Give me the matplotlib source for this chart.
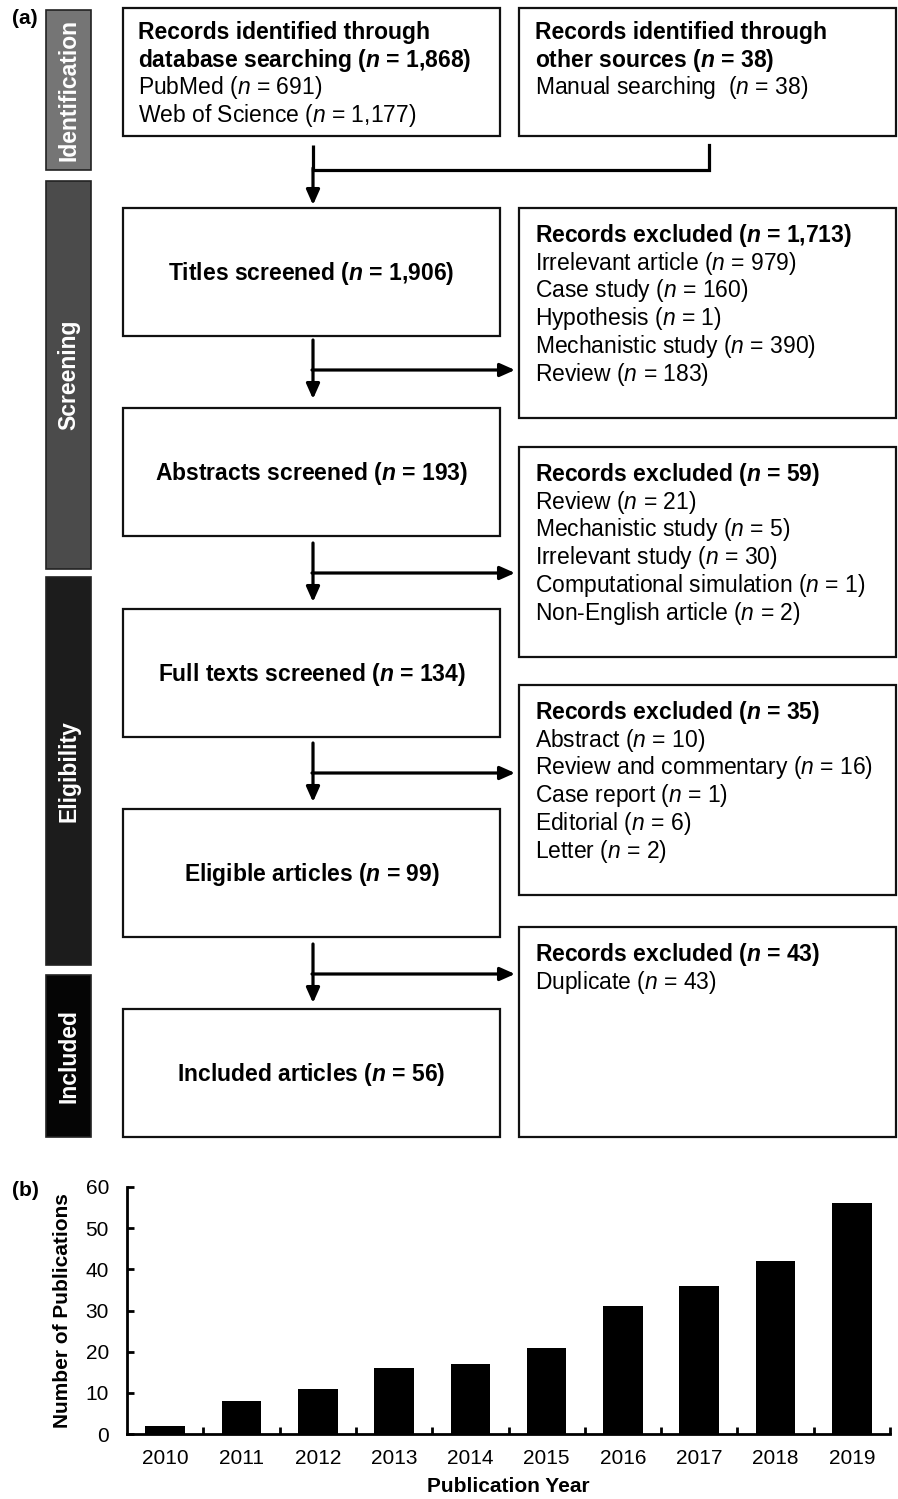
import matplotlib
matplotlib.use("Agg")
import matplotlib.pyplot as plt
from matplotlib.patches import Rectangle

plt.rcParams['font.family'] = ['Liberation Sans', 'DejaVu Sans']
plt.rcParams['mathtext.fontset'] = 'custom'
plt.rcParams['mathtext.rm'] = 'Liberation Sans'
plt.rcParams['mathtext.it'] = 'Liberation Sans:italic'
plt.rcParams['mathtext.bf'] = 'Liberation Sans:bold'
plt.rcParams['mathtext.bfit'] = 'Liberation Sans:bold:italic'

# ---- data ----
stages = ["Identification", "Screening", "Eligibility", "Included"]
stage_colors = ["#757575", "#4b4b4b", "#1c1c1c", "#050505"]

left_titles = [
    None,
    r"Titles screened ($\mathbfit{n}$ = 1,906)",
    r"Abstracts screened ($\mathbfit{n}$ = 193)",
    r"Full texts screened ($\mathbfit{n}$ = 134)",
    r"Eligible articles ($\mathbfit{n}$ = 99)",
    r"Included articles ($\mathbfit{n}$ = 56)",
]
db_lines = [
    (r"Records identified through", True),
    (r"database searching ($\mathbfit{n}$ = 1,868)", True),
    (r"PubMed ($n$ = 691)", False),
    (r"Web of Science ($n$ = 1,177)", False),
]
other_lines = [
    (r"Records identified through", True),
    (r"other sources ($\mathbfit{n}$ = 38)", True),
    (r"Manual searching  ($n$ = 38)", False),
]
excluded = [
    [(r"Records excluded ($\mathbfit{n}$ = 1,713)", True),
     (r"Irrelevant article ($n$ = 979)", False),
     (r"Case study ($n$ = 160)", False),
     (r"Hypothesis ($n$ = 1)", False),
     (r"Mechanistic study ($n$ = 390)", False),
     (r"Review ($n$ = 183)", False)],
    [(r"Records excluded ($\mathbfit{n}$ = 59)", True),
     (r"Review ($n$ = 21)", False),
     (r"Mechanistic study ($n$ = 5)", False),
     (r"Irrelevant study ($n$ = 30)", False),
     (r"Computational simulation ($n$ = 1)", False),
     (r"Non-English article ($n$ = 2)", False)],
    [(r"Records excluded ($\mathbfit{n}$ = 35)", True),
     (r"Abstract ($n$ = 10)", False),
     (r"Review and commentary ($n$ = 16)", False),
     (r"Case report ($n$ = 1)", False),
     (r"Editorial ($n$ = 6)", False),
     (r"Letter ($n$ = 2)", False)],
    [(r"Records excluded ($\mathbfit{n}$ = 43)", True),
     (r"Duplicate ($n$ = 43)", False)],
]

years = ["2010", "2011", "2012", "2013", "2014", "2015", "2016", "2017", "2018", "2019"]
publications = [2, 8, 11, 16, 17, 21, 31, 36, 42, 56]

# ---- figure ----
fig = plt.figure(figsize=(8.98, 14.99), dpi=100)
ax = fig.add_axes([0, 0, 1, 1])
ax.set_xlim(0, 898)
ax.set_ylim(1499, 0)
ax.axis("off")

FS = 16.5
LINE = 27.7

# stage bars on the left
stage_spans = [(10, 170), (181, 569), (577, 965), (975, 1137)]
for name, col, (y0, y1) in zip(stages, stage_colors, stage_spans):
    ax.add_patch(Rectangle((46, y0), 45, y1 - y0, facecolor=col, edgecolor="#222222", lw=1.2))
    ax.text(69, (y0 + y1) / 2, name, rotation=90, ha="center", va="center",
            color="white", fontsize=16.5, fontweight="bold")

# left boxes
LX0, LX1 = 123, 500
left_spans = [(8, 136), (208, 336), (408, 536), (609, 737), (809, 937), (1009, 1137)]
for (y0, y1), title in zip(left_spans, left_titles):
    ax.add_patch(Rectangle((LX0, y0), LX1 - LX0, y1 - y0, facecolor="white", edgecolor="#111111", lw=1.6))
    if title:
        ax.text((LX0 + LX1) / 2, (y0 + y1) / 2 + 8, title, ha="center", va="baseline",
                fontsize=FS, fontweight="bold")

# right boxes
RX0, RX1 = 519, 896
right_spans = [(8, 136), (208, 418), (447, 657), (685, 895), (927, 1137)]
for (y0, y1) in right_spans:
    ax.add_patch(Rectangle((RX0, y0), RX1 - RX0, y1 - y0, facecolor="white", edgecolor="#111111", lw=1.6))


def write_lines(x, y_first, lines):
    for i, (txt, bold) in enumerate(lines):
        ax.text(x, y_first + i * LINE, txt, ha="left", va="baseline", fontsize=FS,
                fontweight="bold" if bold else "normal")


write_lines(138, 39, db_lines)
write_lines(535, 39, other_lines)
for (y0, y1), lines in zip(right_spans[1:], excluded):
    write_lines(535, y0 + 34, lines)

# arrows
CX = 313
LW = 2.3
akw = dict(arrowstyle="-|>,head_length=0.9,head_width=0.4", color="black", lw=LW, shrinkA=0, shrinkB=0)
ax.plot([CX, CX], [145, 170], color="black", lw=LW, solid_capstyle="butt")
ax.plot([CX, 709, 709], [170, 170, 145], color="black", lw=LW, solid_joinstyle="miter")
ax.annotate("", xy=(CX, 205), xytext=(CX, 168), arrowprops=akw)

arrow_tops = [340, 543, 743, 944]
for top in arrow_tops:
    mid = top + 30
    ax.annotate("", xy=(CX, top + 59), xytext=(CX, top), arrowprops=akw)
    ax.annotate("", xy=(515, mid), xytext=(CX - 1, mid), arrowprops=akw)

ax.text(12, 18, "(a)", fontsize=15, fontweight="bold", ha="left", va="center")
ax.text(12, 1190, "(b)", fontsize=15, fontweight="bold", ha="left", va="center")

# ---- bar chart ----
bx = fig.add_axes([127 / 898, (1499 - 1434) / 1499, (890 - 127) / 898, (1434 - 1187) / 1499])
pos = list(range(len(years)))
bx.bar(pos, publications, width=0.52, color="black")
bx.set_xlim(-0.5, len(years) - 0.5)
bx.set_ylim(0, 60)
bx.set_yticks([0, 10, 20, 30, 40, 50, 60])
bx.set_xticks(pos)
bx.set_xticklabels(years)
bx.set_xticks([p + 0.5 for p in pos], minor=True)
bx.tick_params(axis="x", which="major", length=0, labelsize=15, pad=11)
bx.tick_params(axis="x", which="minor", direction="in", length=5, width=2)
bx.tick_params(axis="y", direction="in", length=5, width=2, labelsize=15, pad=13)
for s in ["top", "right"]:
    bx.spines[s].set_visible(False)
for s in ["left", "bottom"]:
    bx.spines[s].set_linewidth(2)
bx.set_ylabel("Number of Publications", fontsize=15, fontweight="bold", labelpad=10)
bx.set_xlabel("Publication Year", fontsize=15, fontweight="bold", labelpad=6)

fig.savefig("out.png", dpi=100)
